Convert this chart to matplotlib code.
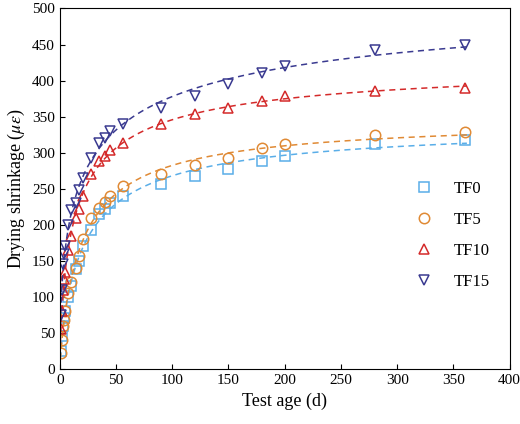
import numpy as np
import matplotlib
matplotlib.use("Agg")
import matplotlib.pyplot as plt

plt.rcParams['font.family'] = ['Liberation Serif', 'DejaVu Serif']
plt.rcParams['mathtext.fontset'] = 'stix'

age = [1,2,3,4,5,7,10,14,17,21,28,35,40,45,56,90,120,150,180,200,280,360]
tf0 = [25,45,60,70,80,100,115,138,150,170,192,215,222,230,240,256,268,277,289,295,312,318]
tf5 = [22,40,60,68,80,105,120,140,157,180,210,223,232,240,254,270,283,293,306,312,324,328]
tf10 = [55,80,110,125,135,165,185,210,222,240,270,288,295,303,313,340,353,362,372,378,386,390]
tf15 = [75,110,145,160,170,200,220,230,248,265,293,313,320,330,340,362,378,395,410,420,443,450]

series = [("TF0", tf0, "#5aaee8", "s"),
          ("TF5", tf5, "#e08a35", "o"),
          ("TF10", tf10, "#d42a2a", "^"),
          ("TF15", tf15, "#3a3a90", "v")]

fig = plt.figure(figsize=(5.2, 4.24), dpi=100)
ax = fig.add_axes([0.115, 0.13, 0.865, 0.85])
t = np.array(age, float)
tt = np.linspace(0.5, 362, 400)
for name, vals, col, mk in series:
    y = np.array(vals, float)
    best = None
    for c in np.linspace(0.4, 1.2, 41):
        for b in np.exp(np.linspace(0, 5, 150)):
            f = t**c / (b + t**c)
            s = (f @ y) / (f @ f)
            err = ((s * f - y) ** 2).sum()
            if best is None or err < best[0]:
                best = (err, b, s, c)
    _, b, s, c = best
    ax.plot(tt, s * tt**c / (b + tt**c), '--', color=col, lw=1.1, dashes=(4, 3))
    ax.plot(t, y, linestyle='none', marker=mk, mfc='none', mec=col, ms=7.5, mew=1.1, label=name)

ax.set_xlim(0, 400)
ax.set_ylim(0, 500)
ax.set_xticks(range(0, 401, 50))
ax.set_yticks(range(0, 501, 50))
ax.tick_params(direction='in', labelsize=11)
ax.set_xlabel("Test age (d)", fontsize=13)
ax.set_ylabel(r"Drying shrinkage ($\mu\varepsilon$)", fontsize=13)
ax.legend(loc='center right', bbox_to_anchor=(0.99, 0.37), frameon=False, fontsize=12, handletextpad=0.8, labelspacing=0.9)
fig.savefig("out.png", dpi=100)
